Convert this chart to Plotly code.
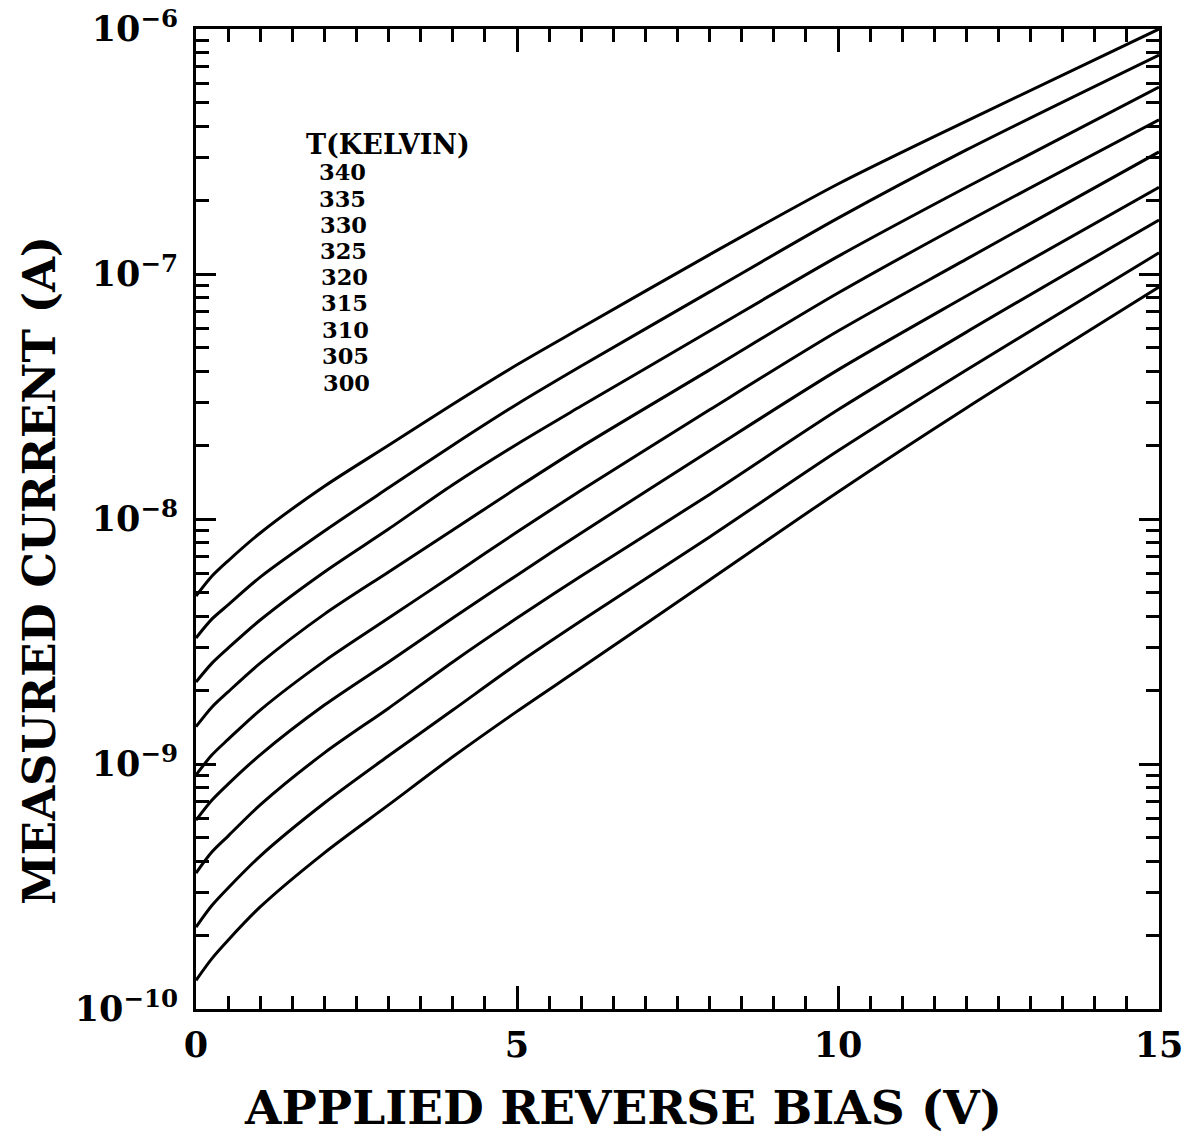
import plotly.graph_objects as go

# Applied reverse bias (V) at which each curve is sampled
bias_v = [0, 0.25, 0.5, 1, 2, 3, 4, 5, 6, 8, 10, 12, 15]

# Temperatures (K), listed top curve first
temps_k = [340, 335, 330, 325, 320, 315, 310, 305, 300]

# Measured reverse current (A) for each temperature
i_340 = [4.85e-9, 5.85e-9, 6.75e-9, 8.77e-9, 1.36e-8, 2.00e-8, 2.94e-8, 4.26e-8, 6.03e-8, 1.20e-7, 2.33e-7, 4.21e-7, 1.00e-6]
i_335 = [3.27e-9, 3.91e-9, 4.46e-9, 5.79e-9, 8.93e-9, 1.34e-8, 2.00e-8, 2.94e-8, 4.21e-8, 8.45e-8, 1.69e-7, 3.21e-7, 7.83e-7]
i_330 = [2.16e-9, 2.58e-9, 2.97e-9, 3.87e-9, 6.08e-9, 9.10e-9, 1.38e-8, 2.02e-8, 2.89e-8, 5.85e-8, 1.18e-7, 2.26e-7, 5.79e-7]
i_325 = [1.42e-9, 1.71e-9, 1.97e-9, 2.58e-9, 4.09e-9, 6.08e-9, 9.02e-9, 1.34e-8, 1.97e-8, 4.06e-8, 8.36e-8, 1.63e-7, 4.26e-7]
i_320 = [9.02e-10, 1.09e-9, 1.26e-9, 1.66e-9, 2.63e-9, 3.94e-9, 5.90e-9, 8.85e-9, 1.31e-8, 2.79e-8, 5.85e-8, 1.15e-7, 3.15e-7]
i_315 = [5.90e-10, 7.13e-10, 8.28e-10, 1.09e-9, 1.74e-9, 2.61e-9, 3.94e-9, 5.90e-9, 8.77e-9, 1.90e-8, 4.06e-8, 8.13e-8, 2.26e-7]
i_310 = [3.59e-10, 4.38e-10, 5.08e-10, 6.81e-10, 1.11e-9, 1.69e-9, 2.61e-9, 3.94e-9, 5.85e-9, 1.26e-8, 2.79e-8, 5.79e-8, 1.66e-7]
i_305 = [2.16e-10, 2.65e-10, 3.12e-10, 4.21e-10, 6.93e-10, 1.08e-9, 1.66e-9, 2.56e-9, 3.84e-9, 8.45e-9, 1.90e-8, 4.06e-8, 1.22e-7]
i_300 = [1.31e-10, 1.61e-10, 1.91e-10, 2.61e-10, 4.34e-10, 6.81e-10, 1.07e-9, 1.64e-9, 2.47e-9, 5.64e-9, 1.29e-8, 2.84e-8, 8.85e-8]

currents = [i_340, i_335, i_330, i_325, i_320, i_315, i_310, i_305, i_300]

# Axis tick definitions
x_major = [0, 5, 10, 15]
x_major_text = ["0", "5", "10", "15"]
x_minor = [v / 2 for v in range(0, 31) if v % 10 != 0]
y_major = [1e-10, 1e-9, 1e-8, 1e-7, 1e-6]
y_major_text = ["10<sup>−10</sup>", "10<sup>−9</sup>", "10<sup>−8</sup>", "10<sup>−7</sup>", "10<sup>−6</sup>"]
y_minor = [m * 10.0 ** e for e in range(-10, -6) for m in range(2, 10)]

SERIF = "DejaVu Serif"
INK = "black"

fig = go.Figure()
for t, cur in zip(temps_k, currents):
    fig.add_trace(go.Scatter(
        x=bias_v, y=cur, mode="lines", name=f"{t} K",
        line=dict(color=INK, width=3, shape="spline", smoothing=0.8),
        showlegend=False, hoverinfo="skip",
    ))

tick_font = dict(family=SERIF, size=35, color=INK, weight="bold")
title_font = dict(family=SERIF, size=45, color=INK, weight="bold")
minor_style = dict(ticks="inside", ticklen=13, tickwidth=2.5, tickcolor=INK, showgrid=False)

fig.update_layout(
    width=1188, height=1138,
    margin=dict(l=196, r=29, t=29, b=129),
    paper_bgcolor="white", plot_bgcolor="white",
    xaxis=dict(
        range=[0, 15], tickmode="array", tickvals=x_major, ticktext=x_major_text,
        ticks="inside", ticklen=23, tickwidth=3, tickcolor=INK, ticklabelstandoff=3,
        minor=dict(tickmode="array", tickvals=x_minor, **minor_style),
        showline=True, linewidth=3, linecolor=INK, mirror="allticks",
        showgrid=False, zeroline=False, tickfont=tick_font, automargin=False,
    ),
    yaxis=dict(
        type="log", range=[-10, -6], tickmode="array", tickvals=y_major, ticktext=y_major_text,
        ticks="inside", ticklen=20, tickwidth=3, tickcolor=INK, ticklabelstandoff=8,
        minor=dict(tickmode="array", tickvals=y_minor, **minor_style),
        showline=True, linewidth=3, linecolor=INK, mirror="allticks",
        showgrid=False, zeroline=False, tickfont=tick_font, automargin=False,
    ),
)

# Axis titles
fig.add_annotation(text="APPLIED REVERSE BIAS (V)", xref="paper", yref="paper",
                   x=0.443, y=-0.101, xanchor="center", yanchor="middle", showarrow=False,
                   font=dict(family=SERIF, size=47, color=INK, weight="bold"))
fig.add_annotation(text="MEASURED CURRENT (A)", xref="paper", yref="paper",
                   x=-0.162, y=0.448, xanchor="center", yanchor="middle", showarrow=False,
                   textangle=-90, font=title_font)

# Temperature key
fig.add_annotation(text="T(KELVIN)", xref="paper", yref="paper", x=0.112, y=0.882,
                   xanchor="left", yanchor="middle", showarrow=False,
                   font=dict(family=SERIF, size=27, color=INK, weight="bold"))
key_font = dict(family=SERIF, size=22.5, color=INK, weight="bold")
key_y = [0.854, 0.827, 0.800, 0.773, 0.747, 0.720, 0.693, 0.666, 0.639]
key_x = [0.126, 0.126, 0.127, 0.127, 0.128, 0.128, 0.129, 0.129, 0.130]
for t, kx, ky in zip(temps_k, key_x, key_y):
    fig.add_annotation(text=str(t), xref="paper", yref="paper", x=kx, y=ky,
                       xanchor="left", yanchor="middle", showarrow=False, font=key_font)

fig.write_html("out.html")
